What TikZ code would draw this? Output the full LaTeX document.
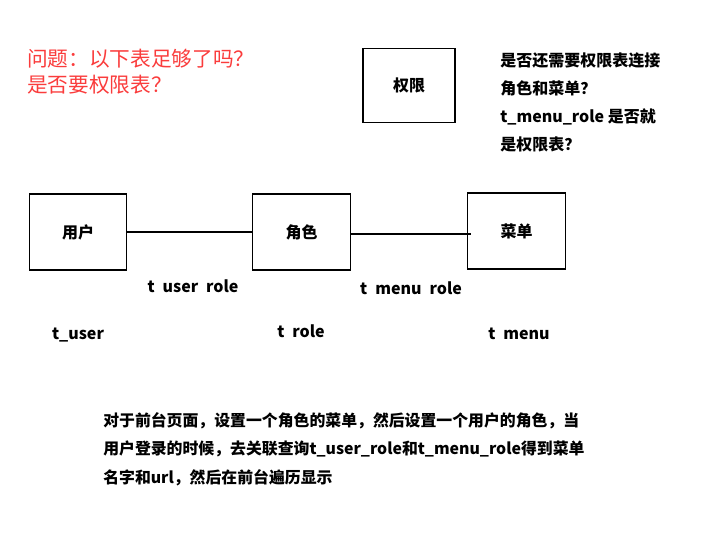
\documentclass[tikz,border=0pt]{standalone}
\usepackage{fontspec}
\setmainfont{Noto Sans CJK SC}
\usetikzlibrary{arrows}
\definecolor{askred}{RGB}{250,60,60}

\begin{document}
\begin{tikzpicture}[x=0.75pt,y=-0.75pt]
  \useasboundingbox (0,0) rectangle (724,543);
  \tikzset{table/.style={draw,thick,minimum width=73pt,minimum height=57pt,font=\bfseries\fontsize{12}{14}\selectfont}}
  \tikzset{lbl/.style={font=\bfseries\fontsize{12}{14}\selectfont}}
  \node[table] (user) at (78,232) {用户};
  \node[table] (role) at (301.5,232) {角色};
  \node[table] (menu) at (516.5,231) {菜单};
  \node[table,minimum width=69pt,minimum height=56pt] (perm) at (409,85.5) {权限};
  \coordinate (menuin) at (471,234);
  \draw[thick] (user.east) edge (role.west);
  \draw[thick] (role.east |- menuin) edge (menuin);
  \node[lbl] (ur) at (193,286) {t\hspace{0.5em}user\hspace{0.5em}role};
  \node[lbl] (mr) at (411,288) {t\hspace{0.5em}menu\hspace{0.5em}role};
  \node[lbl] (tu) at (78,335) {t\_user};
  \node[lbl] (tr) at (301,331) {t\hspace{0.5em}role};
  \node[lbl] (tm) at (519,334) {t\hspace{0.5em}menu};
  \node[anchor=north west,align=left,text=askred,inner sep=0pt,font=\fontsize{15.5}{19.5}\selectfont] (ask) at (27,49) {问题：以下表足够了吗？\\是否要权限表？};
  \node[anchor=north west,align=left,inner sep=0pt,font=\bfseries\fontsize{12}{21}\selectfont] (note) at (500,53) {是否还需要权限表连接\\角色和菜单？\\t\_menu\_role 是否就\\是权限表？};
  \node[anchor=north west,align=left,inner sep=0pt,font=\bfseries\fontsize{11.9}{21.4}\selectfont] (desc) at (103,412) {对于前台页面，设置一个角色的菜单，然后设置一个用户的角色，当\\用户登录的时候，去关联查询t\_user\_role和t\_menu\_role得到菜单\\名字和url，然后在前台遍历显示};
\end{tikzpicture}
\end{document}
